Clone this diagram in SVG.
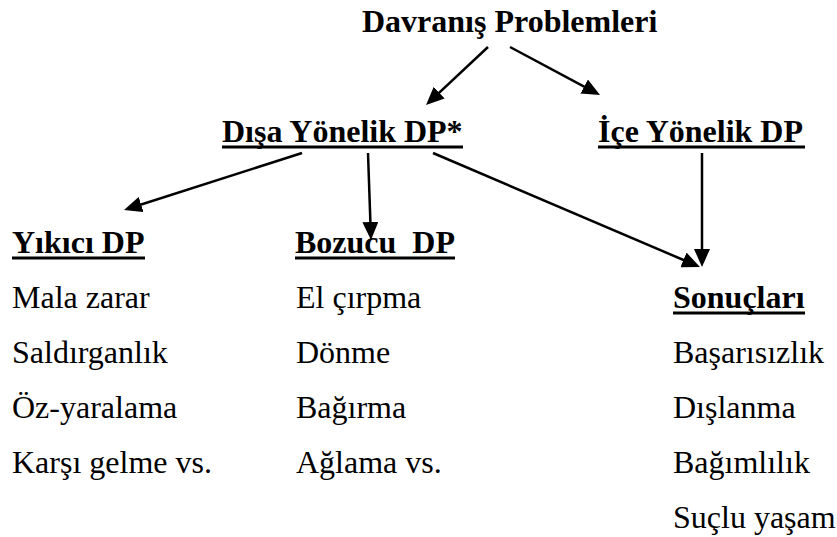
<svg xmlns="http://www.w3.org/2000/svg" width="837" height="537" viewBox="0 0 837 537">
<defs>
<style>
text{font-family:"Liberation Serif",serif;font-size:32px;fill:#000}
.b{font-weight:bold}
.ul{stroke:#000;stroke-width:3}
.con line{stroke:#000;stroke-width:2.5;fill:none}
</style>
<marker id="ah" viewBox="0 0 18 16" refX="9" refY="8" markerWidth="18" markerHeight="16" markerUnits="userSpaceOnUse" orient="auto">
<path d="M0,0 L18,8 L0,16 z" fill="#000"/>
</marker>
</defs>
<rect width="837" height="537" fill="#fff"/>
<g id="root"><text class="b" x="362" y="32">Davranış Problemleri</text></g>
<g id="disa"><text class="b" x="222" y="142">Dışa Yönelik DP*</text><line class="ul" x1="222" y1="147" x2="463" y2="147"/></g>
<g id="ice"><text class="b" x="598" y="142">İçe Yönelik DP</text><line class="ul" x1="598" y1="147" x2="805" y2="147"/></g>
<g id="yikici"><text class="b" x="12" y="253">Yıkıcı DP</text><line class="ul" x1="12" y1="258" x2="145" y2="258"/>
<text x="12" y="308">Mala zarar</text><text x="12" y="363">Saldırganlık</text><text x="12" y="418">Öz-yaralama</text><text x="12" y="473">Karşı gelme vs.</text></g>
<g id="bozucu"><text class="b" x="295" y="253" xml:space="preserve">Bozucu  DP</text><line class="ul" x1="295" y1="258" x2="455" y2="258"/>
<text x="296" y="308">El çırpma</text><text x="296" y="363">Dönme</text><text x="296" y="418">Bağırma</text><text x="296" y="473">Ağlama vs.</text></g>
<g id="sonuclari"><text class="b" x="673" y="308">Sonuçları</text><line class="ul" x1="673" y1="313" x2="805" y2="313"/>
<text x="673" y="363">Başarısızlık</text><text x="673" y="418">Dışlanma</text><text x="673" y="473">Bağımlılık</text><text x="673" y="528">Suçlu yaşam</text></g>
<g id="connectors" class="con">
<line x1="488" y1="47" x2="432.6" y2="98.8" marker-end="url(#ah)"/>
<line x1="510" y1="47" x2="592.1" y2="90.8" marker-end="url(#ah)"/>
<line x1="302" y1="153" x2="132.6" y2="207.3" marker-end="url(#ah)"/>
<line x1="368" y1="153" x2="370.7" y2="231" marker-end="url(#ah)"/>
<line x1="433" y1="153" x2="691.7" y2="263.5" marker-end="url(#ah)"/>
<line x1="702" y1="153" x2="702" y2="258" marker-end="url(#ah)"/>
</g>
</svg>
